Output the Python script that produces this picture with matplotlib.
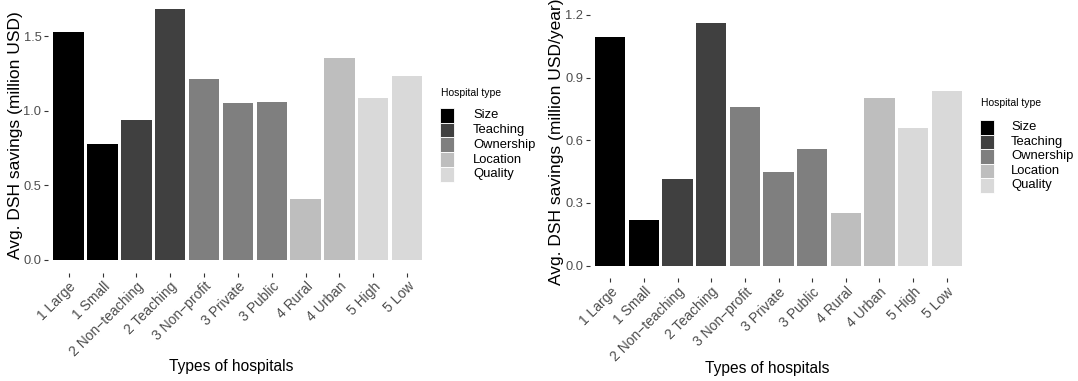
import matplotlib.pyplot as plt
import matplotlib.transforms as mtransforms
from matplotlib.patches import Rectangle

plt.rcParams['font.family'] = ['Liberation Sans', 'DejaVu Sans']

hospitals = ['1 Large', '1 Small', '2 Non\u2212teaching', '2 Teaching', '3 Non\u2212profit',
             '3 Private', '3 Public', '4 Rural', '4 Urban', '5 High', '5 Low']
hosp_type = ['Size', 'Size', 'Teaching', 'Teaching', 'Ownership', 'Ownership',
             'Ownership', 'Location', 'Location', 'Quality', 'Quality']
savings_total = [1.527, 0.777, 0.938, 1.681, 1.212, 1.052, 1.058, 0.409, 1.353, 1.085, 1.232]
savings_year = [1.093, 0.219, 0.415, 1.161, 0.759, 0.448, 0.558, 0.254, 0.802, 0.659, 0.836]
type_order = ['Size', 'Teaching', 'Ownership', 'Location', 'Quality']
type_colors = ['#000000', '#404040', '#7f7f7f', '#bebebe', '#d9d9d9']

W, H = 1078, 381
fig = plt.figure(figsize=(W / 100, H / 100), dpi=100)


def box(x0, y0, x1, y1):
    # pixel box (top-left origin) -> figure fraction rect
    return [x0 / W, 1 - y1 / H, (x1 - x0) / W, (y1 - y0) / H]


cmap = dict(zip(type_order, type_colors))
bar_colors = [cmap[t] for t in hosp_type]


def panel(rect, values, ylim, yticks, ylabel, ylab_xy, xlab_xy, leg):
    ax = fig.add_axes(box(*rect))
    ax.bar(range(len(hospitals)), values, width=0.9, color=bar_colors)
    ax.set_xlim(-0.6, len(hospitals) - 0.4)
    ax.set_ylim(*ylim)
    ax.set_yticks(yticks)
    ax.set_yticklabels([f'{v:.1f}' for v in yticks])
    ax.set_xticks(range(len(hospitals)))
    ax.set_xticklabels(hospitals, rotation=45, ha='right', va='top',
                       rotation_mode='anchor')
    shift = mtransforms.ScaledTranslation(0.05, -0.03, fig.dpi_scale_trans)
    for lab in ax.get_xticklabels():
        lab.set_transform(lab.get_transform() + shift)
    for s in ax.spines.values():
        s.set_visible(False)
    ax.tick_params(length=3, width=0.8, color='#333333', labelcolor='#4d4d4d',
                   pad=2)
    ax.tick_params(axis='y', labelsize=9.3)
    ax.tick_params(axis='x', labelsize=10)
    fig.text(ylab_xy[0] / W, 1 - ylab_xy[1] / H, ylabel, rotation=90,
             ha='center', va='center', fontsize=12.5)
    fig.text(xlab_xy[0] / W, 1 - xlab_xy[1] / H, 'Types of hospitals',
             ha='center', va='center', fontsize=11.2)

    # legend drawn by hand (ggplot style, contiguous keys)
    tx, ty, kx, ky, kw, kh, lx = leg
    fig.text(tx / W, 1 - ty / H, 'Hospital type', ha='left', va='center',
             fontsize=7.5)
    for i, (name, col) in enumerate(zip(type_order, type_colors)):
        top = ky + i * kh
        fig.patches.append(Rectangle((kx / W, 1 - (top + kh) / H), kw / W, kh / H,
                                     transform=fig.transFigure, facecolor=col,
                                     edgecolor='white', linewidth=0.6))
        fig.text(lx / W, 1 - (top + kh / 2) / H, name, ha='left', va='center',
                 fontsize=9.4)
    return ax


panel((48.4, 0, 427.4, 272.5), savings_total, (-0.084, 1.7415),
      [0.0, 0.5, 1.0, 1.5], 'Avg. DSH savings (million USD)',
      (16, 135), (231, 367), (441, 93.3, 440, 107.7, 14, 14.8, 473))

panel((590, 10.9, 967, 277.8), savings_year, (-0.058, 1.219),
      [0.0, 0.3, 0.6, 0.9, 1.2], 'Avg. DSH savings (million USD/year)',
      (556, 142), (767, 368), (981, 103.3, 980, 120, 14, 14.5, 1011))

fig.savefig('out.png', dpi=100)
